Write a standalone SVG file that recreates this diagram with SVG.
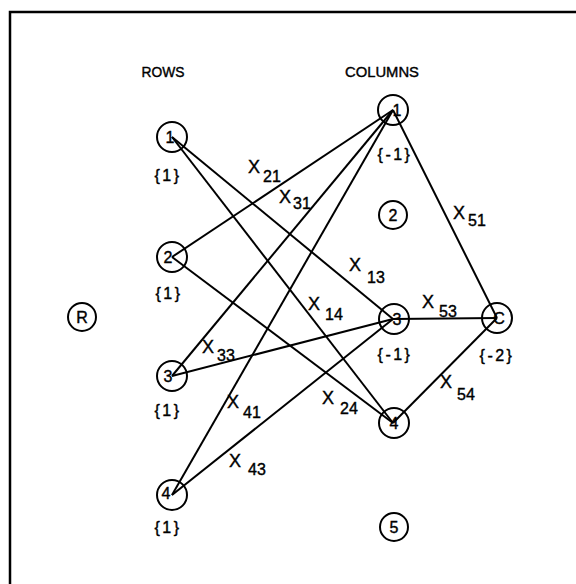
<svg xmlns="http://www.w3.org/2000/svg" width="576" height="584" viewBox="0 0 576 584">
<style>
text{font-family:"Liberation Sans","DejaVu Sans",sans-serif;fill:#000;stroke:#000;stroke-width:0.4}
.n{fill:none;stroke:#000;stroke-width:2}
.e{stroke:#000;stroke-width:2;fill:none}
.t{font-size:16px;text-anchor:middle}
.h{font-size:15px;text-anchor:middle}
.w{font-size:16px;text-anchor:middle;letter-spacing:2.5px}
.x{font-size:18px}
.s{font-size:16px}
</style>
<rect width="576" height="584" fill="#fff"/>
<g id="frame"><path d="M10,584 V12 H576" fill="none" stroke="#000" stroke-width="2.5"/></g>
<g id="headers">
<text x="163" y="77" class="h" textLength="43" lengthAdjust="spacingAndGlyphs">ROWS</text>
<text x="382" y="77" class="h" textLength="74" lengthAdjust="spacingAndGlyphs">COLUMNS</text>
</g>
<g id="connectors">
<line class="e" x1="172" y1="257" x2="393" y2="110"/>
<line class="e" x1="172" y1="376" x2="393" y2="110"/>
<line class="e" x1="172" y1="495" x2="393" y2="110"/>
<line class="e" x1="172" y1="137" x2="393" y2="319"/>
<line class="e" x1="172" y1="376" x2="393" y2="319"/>
<line class="e" x1="172" y1="495" x2="393" y2="319"/>
<line class="e" x1="172" y1="137" x2="393" y2="423"/>
<line class="e" x1="172" y1="257" x2="393" y2="423"/>
<line class="e" x1="393" y1="110" x2="497" y2="318"/>
<line class="e" x1="393" y1="319" x2="497" y2="318"/>
<line class="e" x1="393" y1="423" x2="497" y2="318"/>
</g>
<g id="edge-labels">
<text x="248" y="173" class="x">X</text><text x="263" y="182" class="s">21</text>
<text x="279" y="203" class="x">X</text><text x="293" y="209" class="s">31</text>
<text x="349" y="271" class="x">X</text><text x="367" y="283" class="s">13</text>
<text x="308" y="310" class="x">X</text><text x="325" y="320" class="s">14</text>
<text x="202" y="353" class="x">X</text><text x="217" y="361" class="s">33</text>
<text x="227" y="408" class="x">X</text><text x="243" y="418" class="s">41</text>
<text x="322" y="404" class="x">X</text><text x="340" y="414" class="s">24</text>
<text x="229" y="467" class="x">X</text><text x="248" y="475" class="s">43</text>
<text x="453" y="219" class="x">X</text><text x="468" y="226" class="s">51</text>
<text x="422" y="308" class="x">X</text><text x="439" y="317" class="s">53</text>
<text x="440" y="388" class="x">X</text><text x="457" y="400" class="s">54</text>
</g>
<g id="node-R"><circle class="n" cx="82" cy="317" r="14"/><text x="82" y="323" class="t" font-size="14">R</text></g>
<g id="row-1"><circle class="n" cx="172" cy="137" r="15"/><text x="170" y="143" class="t">1</text><text x="168" y="181" class="w">{1}</text></g>
<g id="row-2"><circle class="n" cx="172" cy="257" r="15"/><text x="168" y="263" class="t">2</text><text x="169" y="299" class="w">{1}</text></g>
<g id="row-3"><circle class="n" cx="172" cy="376" r="15"/><text x="168" y="382" class="t">3</text><text x="168" y="416" class="w">{1}</text></g>
<g id="row-4"><circle class="n" cx="172" cy="495" r="15"/><text x="166" y="499" class="t">4</text><text x="168" y="533" class="w">{1}</text></g>
<g id="col-1"><circle class="n" cx="393" cy="110" r="15"/><text x="397" y="116" class="t">1</text><text x="395" y="160" class="w">{-1}</text></g>
<g id="col-2"><circle class="n" cx="393" cy="215" r="14"/><text x="393" y="221" class="t">2</text></g>
<g id="col-3"><circle class="n" cx="394" cy="319" r="15"/><text x="397" y="325" class="t">3</text><text x="395" y="360" class="w">{-1}</text></g>
<g id="col-4"><circle class="n" cx="394" cy="423" r="15"/><text x="394" y="429" class="t">4</text></g>
<g id="col-5"><circle class="n" cx="394" cy="527" r="14"/><text x="394" y="533" class="t">5</text></g>
<g id="node-C"><circle class="n" cx="497" cy="318" r="15"/><text x="499" y="324" class="t">C</text><text x="497" y="361" class="w">{-2}</text></g>
</svg>
